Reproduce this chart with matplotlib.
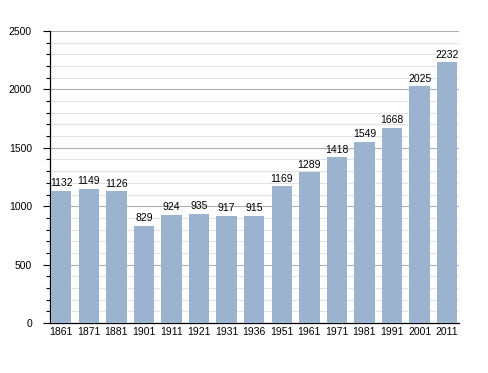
import matplotlib
matplotlib.use("Agg")
import matplotlib.pyplot as plt
from matplotlib.ticker import MultipleLocator

years = ["1861", "1871", "1881", "1901", "1911", "1921", "1931", "1936",
         "1951", "1961", "1971", "1981", "1991", "2001", "2011"]
population = [1132, 1149, 1126, 829, 924, 935, 917, 915,
              1169, 1289, 1418, 1549, 1668, 2025, 2232]

plt.rcParams['font.family'] = ['Liberation Sans', 'DejaVu Sans']

fig = plt.figure(figsize=(4.88, 3.73), dpi=100)
ax = fig.add_axes([50/488, 1-323/373, (459-50)/488, (323-31)/373])

x = list(range(len(years)))
bars = ax.bar(x, population, width=0.74, align='edge', color='#9bb3cf', zorder=3)
for xi, v in zip(x, population):
    ax.annotate(str(v), (xi + 0.37, v), xytext=(0, 2), textcoords='offset points',
                ha='center', va='bottom', fontsize=7.5, color='black', zorder=4)

ax.set_xlim(-0.036, 14.80)
ax.set_ylim(0, 2500)
ax.set_xticks([xi + 0.37 for xi in x])
ax.set_xticklabels(years, fontsize=7.5)
ax.tick_params(axis='x', length=0, pad=3)

ax.yaxis.set_major_locator(MultipleLocator(500))
ax.yaxis.set_minor_locator(MultipleLocator(100))
ax.tick_params(axis='y', which='major', length=5, width=0.8, labelsize=7.5, pad=8)
ax.tick_params(axis='y', which='minor', length=3, width=0.8)

ax.grid(axis='y', which='major', color='#b0b0b0', linewidth=0.8, zorder=0)
ax.grid(axis='y', which='minor', color='#e3e3e3', linewidth=0.8, zorder=0)
ax.set_axisbelow(True)

for s in ['top', 'right']:
    ax.spines[s].set_visible(False)
ax.spines['left'].set_linewidth(0.9)
ax.spines['bottom'].set_linewidth(0.9)

fig.savefig("out.png", dpi=100)
